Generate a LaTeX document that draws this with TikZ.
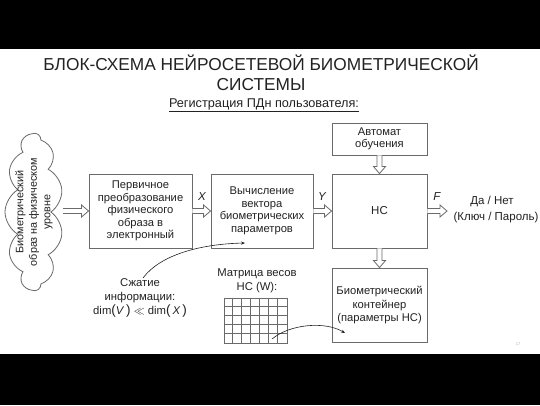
\documentclass[tikz,border=0pt]{standalone}
\usepackage{fontspec}
\setmainfont{Liberation Sans}
\usetikzlibrary{shapes.symbols,calc,arrows.meta}
\definecolor{boxgray}{HTML}{6A6A6A}
\definecolor{txt}{HTML}{222222}
\newcommand{\hbarrow}[2]{%
  \draw[barrow] let \p1=(#1), \p2=(#2) in
    (\x1,\y1+2.5pt) -- (\x2-7pt,\y1+2.5pt) -- (\x2-7pt,\y1+6pt) -- (\x2,\y1)
    -- (\x2-7pt,\y1-6pt) -- (\x2-7pt,\y1-2.5pt) -- (\x1,\y1-2.5pt);}
\newcommand{\vbarrow}[2]{%
  \draw[barrow] let \p1=(#1), \p2=(#2) in
    (\x1-2.5pt,\y1) -- (\x1-2.5pt,\y2+7pt) -- (\x1-6pt,\y2+7pt) -- (\x1,\y2)
    -- (\x1+6pt,\y2+7pt) -- (\x1+2.5pt,\y2+7pt) -- (\x1+2.5pt,\y1);}
\newcommand{\bigpar}[1]{\raisebox{-0.8pt}{\fontsize{13.5}{14}\selectfont #1}}
\begin{document}
\begin{tikzpicture}[x=1pt,y=-1pt,
  box/.style={draw=boxgray, line width=0.9pt, align=center, text=txt,
    font=\fontsize{11.2}{12.5}\selectfont, inner sep=0pt},
  barrow/.style={draw=boxgray, line width=0.8pt, fill=white, line join=miter},
  lbl/.style={text=txt, align=center, inner sep=0pt, font=\fontsize{11.3}{14}\selectfont},
  varlbl/.style={text=txt, inner sep=0pt, font=\fontsize{11.5}{13}\selectfont\itshape},
  thinarrow/.style={draw=txt, line width=0.6pt, -{Stealth[length=4pt,width=3.2pt]}}]
\useasboundingbox (0,0) rectangle (540,405);
\fill[white] (0,0) rectangle (540,405);
\fill[black] (0,0) rectangle (540,49);
\fill[black] (0,354) rectangle (540,405);

% titles
\node[text=txt, align=center, inner sep=0pt, font=\fontsize{17.3}{20}\selectfont] (title) at (261,73)
  {БЛОК-СХЕМА НЕЙРОСЕТЕВОЙ БИОМЕТРИЧЕСКОЙ\\СИСТЕМЫ};
\node[text=txt, inner sep=0pt, font=\fontsize{12.7}{14}\selectfont] (sub) at (264,105)
  {\underline{Регистрация ПДн пользователя:}};

% cloud
\node[cloud, draw=boxgray, line width=0.8pt, rotate=90, cloud puffs=11, cloud puff arc=120,
  aspect=2.75, minimum width=157pt, minimum height=58pt, inner sep=0pt] (cloud) at (34,212) {};
\node[rotate=90, text=txt, align=center, inner sep=0pt, font=\fontsize{10.8}{13.5}\selectfont] (cloudtxt) at (34,212)
  {Биометрический\\образ на физическом\\уровне};

% boxes
\node[box, minimum width=103pt, minimum height=74pt] (b1) at (140.5,211)
  {Первичное\\преобразование\\физического\\образа в\\электронный};
\node[box, minimum width=102pt, minimum height=74pt] (b2) at (262,211)
  {Вычисление\\вектора\\биометрических\\параметров};
\node[box, minimum width=95pt, minimum height=74pt, font=\fontsize{11.5}{12.5}\selectfont] (ns) at (379.5,211) {НС};
\node[box, minimum width=95pt, minimum height=32pt] (auto) at (379.5,139) {Автомат\\обучения};
\node[box, minimum width=95pt, minimum height=74pt, font=\fontsize{11.2}{13.5}\selectfont] (cont) at (379.5,305)
  {Биометрический\\контейнер\\(параметры НС)};

% block arrows
\coordinate (cloudr) at (63,211);
\coordinate (outend) at (447,211);
\hbarrow{cloudr}{b1.west}
\hbarrow{b1.east}{b2.west}
\hbarrow{b2.east}{ns.west}
\hbarrow{ns.east}{outend}
\vbarrow{auto.south}{ns.north}
\vbarrow{ns.south}{cont.north}

% variable labels
\node[varlbl] (lx) at (202,197) {X};
\node[varlbl] (ly) at (322,197) {Y};
\node[varlbl] (lf) at (437,197) {F};

% output text
\node[lbl, font=\fontsize{11.5}{14}\selectfont] (yes) at (492,201) {Да / Нет};
\node[lbl, font=\fontsize{11.5}{14}\selectfont] (key) at (496,218) {(Ключ / Пароль)};

% compression text
\node[lbl] (comp) at (140,298)
  {Сжатие\\информации:\\dim\bigpar{(}\textit{V}\,\bigpar{)}\ $\ll$\ dim\bigpar{(}\,\textit{X}\,\bigpar{)}};
\coordinate (c1s) at (143,278);
\coordinate (c1e) at (245,243);
\draw[thinarrow] (c1s) .. controls (160,255) and (200,244) .. (c1e);

% weight matrix
\node[lbl] (mlbl) at (257,281) {Матрица весов\\НС (W):};
\node[draw=boxgray, line width=0.7pt, minimum width=63pt, minimum height=45pt, inner sep=0pt] (mat) at (255.5,320.5) {};
\foreach \i in {1,...,6}
  \draw[boxgray, line width=0.6pt] ($(mat.north west)+(\i*9pt,0pt)$) -- ($(mat.south west)+(\i*9pt,0pt)$);
\foreach \j in {1,...,4}
  \draw[boxgray, line width=0.6pt] ($(mat.north west)+(0pt,-\j*9pt)$) -- ($(mat.north east)+(0pt,-\j*9pt)$);
\coordinate (c2s) at (272,339);
\coordinate (c2e) at (345,333);
\draw[thinarrow] (c2s) .. controls (290,324) and (325,321) .. (c2e);

% page number
\node[text=gray!60, inner sep=0pt, font=\fontsize{4}{4}\selectfont] (pg) at (518,344) {17};
\end{tikzpicture}
\end{document}
